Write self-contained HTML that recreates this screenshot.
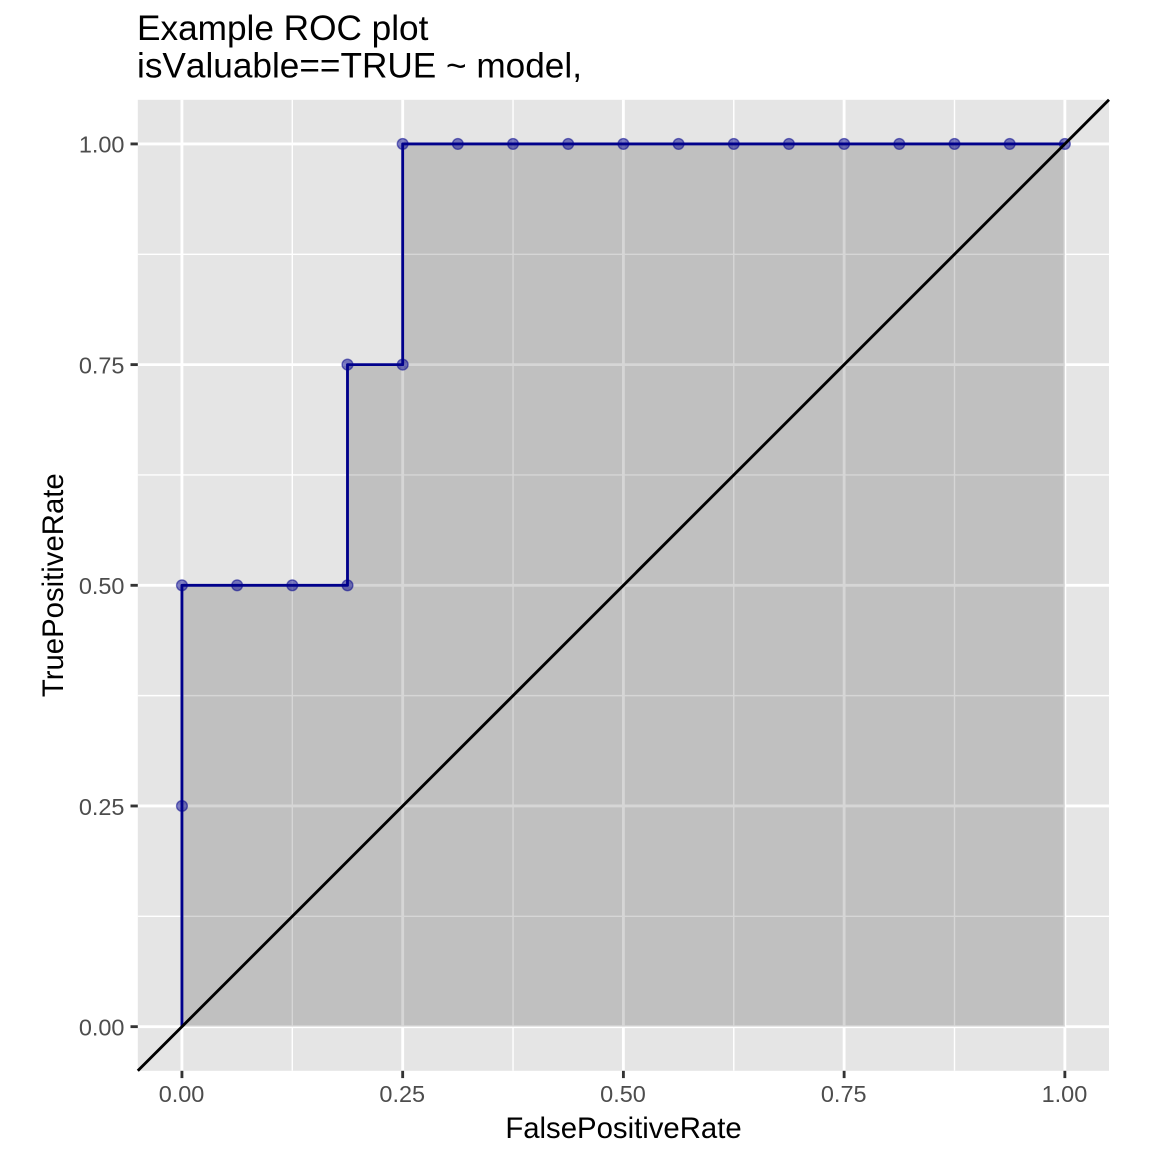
<!DOCTYPE html>
<html>
<head>
<meta charset="utf-8">
<title>Example ROC plot</title>
<style>
html,body{margin:0;padding:0;background:#fff;}
svg{display:block;font-family:"Liberation Sans",Arial,sans-serif;}
.ttl{font-kerning:none;}
</style>
</head>
<body>
<svg id="chart" xmlns="http://www.w3.org/2000/svg" width="1152" height="1152" viewBox="0 0 1152 1152">
<rect x="0" y="0" width="1152" height="1152" fill="#ffffff"/>
<text class="ttl" x="137" y="40" font-size="35.2" fill="#000">Example ROC plot</text>
<text class="ttl" x="137" y="77.6" font-size="35.2" fill="#000">isValuable==TRUE ~ model,</text>
<text x="623.5" y="1138" font-size="29.33" text-anchor="middle" fill="#000">FalsePositiveRate</text>
<text transform="translate(63 585.2) rotate(-90)" font-size="29.33" text-anchor="middle" fill="#000">TruePositiveRate</text>
</svg>
<script>
const fpr = [0, 0, 0, 0.0625, 0.125, 0.1875, 0.1875, 0.25, 0.25, 0.3125, 0.375, 0.4375, 0.5, 0.5625, 0.625, 0.6875, 0.75, 0.8125, 0.875, 0.9375, 1];
const tpr = [0, 0.25, 0.5, 0.5, 0.5, 0.5, 0.75, 0.75, 1, 1, 1, 1, 1, 1, 1, 1, 1, 1, 1, 1, 1];
const xTicks = [0, 0.25, 0.5, 0.75, 1];
const yTicks = [0, 0.25, 0.5, 0.75, 1];
const xTickLabels = ['0.00', '0.25', '0.50', '0.75', '1.00'];
const yTickLabels = ['0.00', '0.25', '0.50', '0.75', '1.00'];
const xMinorTicks = [0.125, 0.375, 0.625, 0.875];
const yMinorTicks = [0.125, 0.375, 0.625, 0.875];
const xDomain = [-0.05, 1.05];
const yDomain = [-0.05, 1.05];

const panelLeft = 137.8, panelRight = 1109, panelTop = 99.8, panelBottom = 1070.8;
const xScale = v => panelLeft + (v - xDomain[0]) / (xDomain[1] - xDomain[0]) * (panelRight - panelLeft);
const yScale = v => panelBottom - (v - yDomain[0]) / (yDomain[1] - yDomain[0]) * (panelBottom - panelTop);

const svg = document.getElementById('chart');
const NS = 'http://www.w3.org/2000/svg';
function make(tag, attrs) {
  const e = document.createElementNS(NS, tag);
  for (const k in attrs) e.setAttribute(k, attrs[k]);
  svg.appendChild(e);
  return e;
}

let el = make('rect', {x: panelLeft, y: panelTop, width: panelRight - panelLeft, height: panelBottom - panelTop, fill: '#e5e5e5'});



xMinorTicks.forEach(v => {
  const g = make('line', {x1: xScale(v), x2: xScale(v), y1: panelTop, y2: panelBottom, stroke: '#fff', 'stroke-width': 1.42});
  
  
});
yMinorTicks.forEach(v => {
  const g = make('line', {y1: yScale(v), y2: yScale(v), x1: panelLeft, x2: panelRight, stroke: '#fff', 'stroke-width': 1.42});
  
  
});
xTicks.forEach(v => {
  const g = make('line', {x1: xScale(v), x2: xScale(v), y1: panelTop, y2: panelBottom, stroke: '#fff', 'stroke-width': 2.85});
  
  
});
yTicks.forEach(v => {
  const g = make('line', {y1: yScale(v), y2: yScale(v), x1: panelLeft, x2: panelRight, stroke: '#fff', 'stroke-width': 2.85});
  
  
});

const curve = fpr.map((v, i) => xScale(v) + ',' + yScale(tpr[i])).join(' ');
const ribbon = xScale(fpr[0]) + ',' + yScale(0) + ' ' + curve + ' ' + xScale(fpr[fpr.length - 1]) + ',' + yScale(0);
el = make('polygon', {points: ribbon, fill: '#000', 'fill-opacity': 0.16});



fpr.forEach((v, i) => {
  if (tpr[i] === 0 && v === 0) return;
  const p = make('circle', {cx: xScale(v), cy: yScale(tpr[i]), r: 5.4, fill: '#00008b', 'fill-opacity': 0.5, stroke: '#00008b', 'stroke-opacity': 0.5, 'stroke-width': 1.4});
  
  
});

el = make('polyline', {points: curve, fill: 'none', stroke: '#00008b', 'stroke-width': 2.85, 'stroke-linejoin': 'round'});



el = make('line', {x1: xScale(xDomain[0]), y1: yScale(yDomain[0]), x2: xScale(xDomain[1]), y2: yScale(yDomain[1]), stroke: '#000', 'stroke-width': 2.85});



xTicks.forEach((v, i) => {
  const t = make('line', {x1: xScale(v), x2: xScale(v), y1: panelBottom, y2: panelBottom + 7.3, stroke: '#333', 'stroke-width': 2.85});
  
  
  const l = make('text', {x: xScale(v) - 0.4, y: 1102, 'font-size': 23.47, 'text-anchor': 'middle', fill: '#4d4d4d'});
  
  
  l.textContent = xTickLabels[i];
});
yTicks.forEach((v, i) => {
  const t = make('line', {x1: panelLeft - 7.3, x2: panelLeft, y1: yScale(v), y2: yScale(v), stroke: '#333', 'stroke-width': 2.85});
  
  
  const l = make('text', {x: 124.5, y: yScale(v) + 8.8, 'font-size': 23.47, 'text-anchor': 'end', fill: '#4d4d4d'});
  
  
  l.textContent = yTickLabels[i];
});
</script>
</body>
</html>
